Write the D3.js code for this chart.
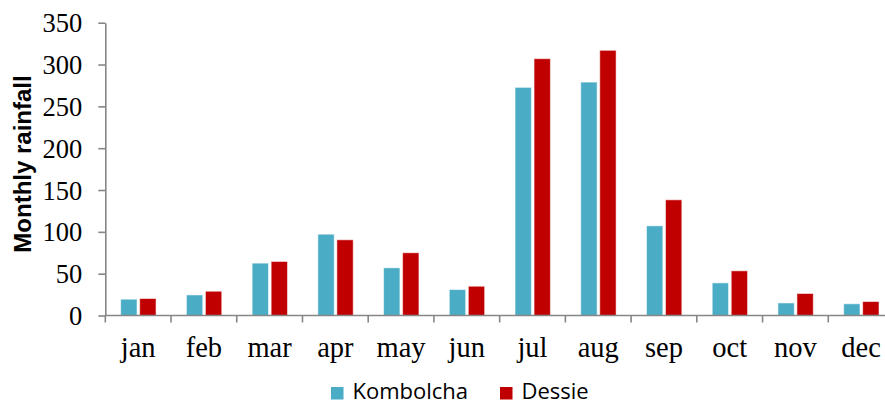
<!DOCTYPE html>
<html>
<head>
<meta charset="utf-8">
<script src="https://cdn.jsdelivr.net/npm/d3@7"></script>
<style>
  html, body { margin: 0; padding: 0; background: #fff; }
  svg { display: block; }
</style>
</head>
<body>
<svg id="chart" width="885" height="405"></svg>
<script>
const months = ["jan","feb","mar","apr","may","jun","jul","aug","sep","oct","nov","dec"];
const seriesNames = ["Kombolcha","Dessie"];
const kombolcha = [19.5, 24.6, 62.6, 97.2, 57, 31, 272.7, 279, 107.2, 39, 15, 14];
const dessie = [20.3, 29, 64.6, 90.5, 75, 35, 307, 317, 138.3, 53.4, 26.3, 16.7];
const yTicks = [0, 50, 100, 150, 200, 250, 300, 350];
const colors = ["#4BACC6", "#C00000"];

const svg = d3.select("#chart");
const plotLeft = 105.3, plotRight = 894, plotTop = 22.7, plotBottom = 315.5;

const x0 = d3.scaleBand().domain(months).range([plotLeft, plotRight]).padding(0);
const bw = x0.bandwidth();
const x1 = d3.scaleBand().domain(seriesNames).range([bw * 0.234, bw * 0.772]).paddingInner(0.14).paddingOuter(0);
const y = d3.scaleLinear().domain([0, 350]).range([plotBottom, plotTop]);
const color = d3.scaleOrdinal().domain(seriesNames).range(colors);

const data = months.map((m, i) => ({ month: m, values: [
  { name: seriesNames[0], value: kombolcha[i] },
  { name: seriesNames[1], value: dessie[i] }
]}));

// bars
const groups = svg.append("g").selectAll("g").data(data).join("g")
  .attr("transform", d => `translate(${x0(d.month)},0)`);
groups.selectAll("rect").data(d => d.values).join("rect")
  .attr("x", d => x1(d.name))
  .attr("width", x1.bandwidth())
  .attr("y", d => y(d.value))
  .attr("height", d => plotBottom - y(d.value))
  .attr("fill", d => color(d.name))
  .attr("stroke", "#ffffff")
  .attr("stroke-opacity", 0.55)
  .attr("stroke-width", 1);

// y axis
const yAxis = svg.append("g").attr("transform", `translate(${plotLeft},0)`)
  .call(d3.axisLeft(y).tickValues(yTicks).tickSize(7).tickSizeOuter(0).tickPadding(16));
yAxis.select(".domain").attr("stroke", "#868686").attr("stroke-width", 1.6);
yAxis.selectAll(".tick line").attr("stroke", "#868686").attr("stroke-width", 1.6);
yAxis.selectAll(".tick text")
  .attr("font-family", "'Liberation Serif', 'Times New Roman', serif")
  .attr("font-size", 26.5).attr("fill", "#000").attr("dy", "0.34em");

// x axis
const xAxisG = svg.append("g").attr("transform", `translate(0,${plotBottom})`);
xAxisG.append("line").attr("x1", plotLeft).attr("x2", plotRight).attr("y1", 0).attr("y2", 0)
  .attr("stroke", "#868686").attr("stroke-width", 1.6);
const boundaries = months.map(m => x0(m)).concat([plotRight]);
xAxisG.selectAll("line.tk").data(boundaries).join("line").attr("class", "tk")
  .attr("x1", d => d).attr("x2", d => d).attr("y1", 0).attr("y2", 7)
  .attr("stroke", "#868686").attr("stroke-width", 1.6);
xAxisG.selectAll("text").data(months).join("text")
  .attr("x", d => x0(d) + bw / 2).attr("y", 41.5)
  .attr("text-anchor", "middle")
  .attr("font-family", "'Liberation Serif', 'Times New Roman', serif")
  .attr("font-size", 28.5).attr("fill", "#000")
  .text(d => d);

// y title
svg.append("text")
  .attr("transform", `translate(30.5,164) rotate(-90)`)
  .attr("text-anchor", "middle")
  .attr("font-family", "'Liberation Sans', Arial, sans-serif")
  .attr("font-weight", "bold").attr("font-size", 24).attr("fill", "#000")
  .text("Monthly rainfall");

// legend
const legendPos = [331, 500];
const lg = svg.append("g").selectAll("g").data(seriesNames).join("g")
  .attr("transform", (d, i) => `translate(${legendPos[i]},387)`);
lg.append("rect").attr("width", 12.5).attr("height", 12.5).attr("fill", d => color(d));
lg.append("text").attr("x", 21.5).attr("y", 12)
  .attr("font-family", "'Open Sans', sans-serif").attr("font-size", 22).attr("fill", "#000")
  .text(d => d);
</script>
</body>
</html>
